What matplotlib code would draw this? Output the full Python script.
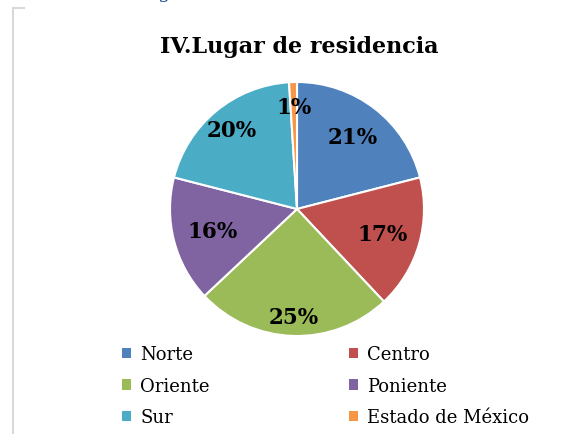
import matplotlib.pyplot as plt
from matplotlib.patches import Patch
from matplotlib.lines import Line2D
import numpy as np

# Data
categories = ['Norte', 'Centro', 'Oriente', 'Poniente', 'Sur', 'Estado de México']
values = [21, 17, 25, 16, 20, 1]
colors = ['#4F81BD', '#C0504D', '#9BBB59', '#8064A2', '#4BACC6', '#F79646']
label_dist = [0.72, 0.70, 0.85, 0.69, 0.81, 0.80]

W, H = 569, 435
fig = plt.figure(figsize=(W / 100, H / 100), dpi=100)
serif = ['DejaVu Serif']

# chart frame fragment (light gray)
fig.add_artist(Line2D([12.5 / W, 12.5 / W], [0, 1 - 9 / H], color='#d9d9d9', lw=1.5))
fig.add_artist(Line2D([12.5 / W, 24 / W], [1 - 9 / H, 1 - 9 / H], color='#d9d9d9', lw=1.5))
# cut-off heading above the chart
fig.text(158 / W, 1 + 2 / H, 'g', color='#2F5496', fontsize=14, family=serif, va='baseline')

fig.text(299 / W, 1 - 47 / H, 'IV.Lugar de residencia', ha='center', va='center',
         fontsize=16, fontweight='bold', family=serif)

# pie
r = 127
cx, cy = 297, 210
ax = fig.add_axes([(cx - r) / W, 1 - (cy + r) / H, 2 * r / W, 2 * r / H])
wedges, _ = ax.pie(values, colors=colors, startangle=90, counterclock=False,
                   wedgeprops=dict(edgecolor='white', linewidth=1.5))
ax.set_xlim(-1, 1)
ax.set_ylim(-1, 1)
ax.set_aspect('equal')
ax.axis('off')

for w, v, d in zip(wedges, values, label_dist):
    ang = np.deg2rad((w.theta1 + w.theta2) / 2)
    ax.text(d * np.cos(ang), d * np.sin(ang), f'{v}%', ha='center', va='center',
            fontsize=15.5, fontweight='bold', family=serif)

handles = [Patch(facecolor=c, edgecolor='none') for c in colors]
order = [0, 2, 4, 1, 3, 5]
leg = fig.legend([handles[i] for i in order], [categories[i] for i in order],
                 ncol=2, loc='upper left', bbox_to_anchor=(106 / W, 1 - 330 / H),
                 frameon=False, handlelength=0.5, handleheight=0.5, handletextpad=0.5,
                 columnspacing=7.7, labelspacing=0.75,
                 prop=dict(family=serif, size=13))

fig.savefig('out.png', dpi=100)
